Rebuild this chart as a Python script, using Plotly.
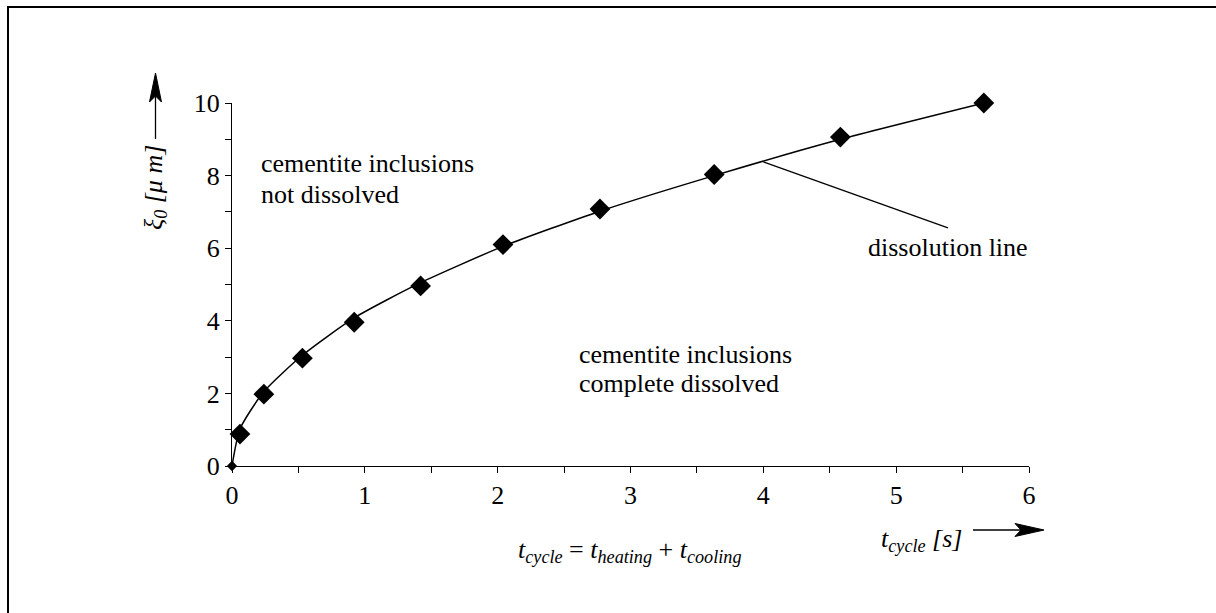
import plotly.graph_objects as go

# Measured cycle times and critical inclusion sizes
t_cycle = [0.0, 0.06, 0.24, 0.53, 0.92, 1.42, 2.04, 2.77, 3.63, 4.58, 5.66]
xi_0 = [0.0, 0.88, 1.98, 2.97, 3.96, 4.96, 6.1, 7.08, 8.03, 9.06, 10.0]

# Dissolution line (fitted boundary)
line_t = [0.0, 0.06, 0.24, 0.53, 0.92, 1.42, 2.04, 2.77, 3.63, 4.58, 5.66]
line_xi = [0.0, 1.02, 2.05, 3.05, 4.08, 5.05, 6.05, 7.02, 8.0, 9.0, 10.0]

x_ticks = [0, 1, 2, 3, 4, 5, 6]
y_ticks = [0, 2, 4, 6, 8, 10]

FONT = "Liberation Serif"
FS = 26

fig = go.Figure()
fig.add_trace(go.Scatter(
    x=line_t, y=line_xi, mode="lines",
    line=dict(color="black", width=1.5, shape="spline", smoothing=0.6),
    hoverinfo="skip", cliponaxis=False,
))
fig.add_trace(go.Scatter(
    x=t_cycle, y=xi_0, mode="markers",
    marker=dict(symbol="diamond", color="#000000", opacity=1,
                line=dict(width=0, color="#000000"),
                size=[8] + [16] * (len(t_cycle) - 1)),
    cliponaxis=False,
))

# plot area geometry in pixels (used to place decorations around the axes)
L, R, T, B = 232, 1029, 103, 466
W, H = R - L, B - T


def px(x):
    return (x - L) / W


def py(y):
    return (B - y) / H


def arrow_head(points):
    """Filled barbed arrow head from pixel points, as a paper-space path."""
    d = "M " + " L ".join(f"{px(x):.5f},{py(y):.5f}" for x, y in points) + " Z"
    return dict(type="path", xref="paper", yref="paper", path=d,
                fillcolor="black", line=dict(color="black", width=1))


def seg(x0, y0, x1, y1, width=1.3):
    return dict(type="line", xref="paper", yref="paper",
                x0=px(x0), y0=py(y0), x1=px(x1), y1=py(y1),
                line=dict(color="black", width=width))


txt_font = dict(family=FONT, size=FS, color="black")

annotations = [
    # region labels
    dict(x=0.203, y=8.32, xref="x", yref="y", text="cementite inclusions",
         xanchor="left", yanchor="middle", showarrow=False, font=txt_font),
    dict(x=0.203, y=7.49, xref="x", yref="y", text="not dissolved",
         xanchor="left", yanchor="middle", showarrow=False, font=txt_font),
    dict(x=2.597, y=3.06, xref="x", yref="y", text="cementite inclusions",
         xanchor="left", yanchor="middle", showarrow=False, font=txt_font),
    dict(x=2.597, y=2.26, xref="x", yref="y", text="complete dissolved",
         xanchor="left", yanchor="middle", showarrow=False, font=txt_font),
    dict(x=4.773, y=6.03, xref="x", yref="y", text="dissolution line",
         xanchor="left", yanchor="middle", showarrow=False, font=txt_font),
    # y axis title
    dict(x=px(155), y=py(188), xref="paper", yref="paper",
         text="<i>ξ<sub>0</sub> [μ m]</i>", textangle=-90,
         xanchor="center", yanchor="middle", showarrow=False, font=txt_font),
    # x axis titles
    dict(x=px(921), y=py(540), xref="paper", yref="paper",
         text="<i>t<sub>cycle</sub> [s]</i>",
         xanchor="center", yanchor="middle", showarrow=False, font=txt_font),
    dict(x=px(630), y=py(551), xref="paper", yref="paper",
         text="<i>t<sub>cycle</sub></i> = <i>t<sub>heating</sub></i> + <i>t<sub>cooling</sub></i>",
         xanchor="center", yanchor="middle", showarrow=False, font=txt_font),
]

shapes = [
    # pointer from the label to the dissolution line
    dict(type="line", xref="x", yref="y", x0=4.0, y0=8.38, x1=5.39, y1=6.56,
         line=dict(color="black", width=1.3)),
    # y axis arrow
    seg(155.5, 139, 155.5, 92),
    arrow_head([(155.5, 73), (149.5, 102), (155.5, 96), (161.5, 102)]),
    # x axis arrow
    seg(973, 530, 1024, 530),
    arrow_head([(1044, 530), (1015, 523.5), (1021, 530), (1015, 536.5)]),
    # outer frame
    dict(type="rect", xref="paper", yref="paper",
         x0=px(8), y0=py(700), x1=px(1400), y1=py(7),
         line=dict(color="black", width=2), fillcolor="rgba(0,0,0,0)"),
]

fig.update_layout(
    width=1216, height=613,
    margin=dict(l=L, r=1216 - R, t=T, b=613 - B, pad=0),
    paper_bgcolor="white", plot_bgcolor="white",
    showlegend=False,
    font=dict(family=FONT, size=FS, color="black"),
    annotations=annotations,
    shapes=shapes,
    xaxis=dict(
        range=[0, 6], tickvals=x_ticks, ticktext=[str(v) for v in x_ticks],
        showline=True, linecolor="black", linewidth=1.3,
        ticks="outside", ticklen=6, tickwidth=1.3, tickcolor="black",
        minor=dict(dtick=0.5, ticks="outside", ticklen=6, tickwidth=1.3,
                   tickcolor="black", showgrid=False),
        showgrid=False, zeroline=False, fixedrange=True,
        tickfont=dict(family=FONT, size=FS, color="black"),
    ),
    yaxis=dict(
        range=[0, 10], tickvals=y_ticks, ticktext=[str(v) for v in y_ticks],
        showline=True, linecolor="black", linewidth=1.3,
        ticks="outside", ticklen=6, tickwidth=1.3, tickcolor="black",
        minor=dict(dtick=1, ticks="outside", ticklen=6, tickwidth=1.3,
                   tickcolor="black", showgrid=False),
        showgrid=False, zeroline=False, fixedrange=True,
        tickfont=dict(family=FONT, size=FS, color="black"),
    ),
)

fig.write_html("out.html", config={"displayModeBar": False})
